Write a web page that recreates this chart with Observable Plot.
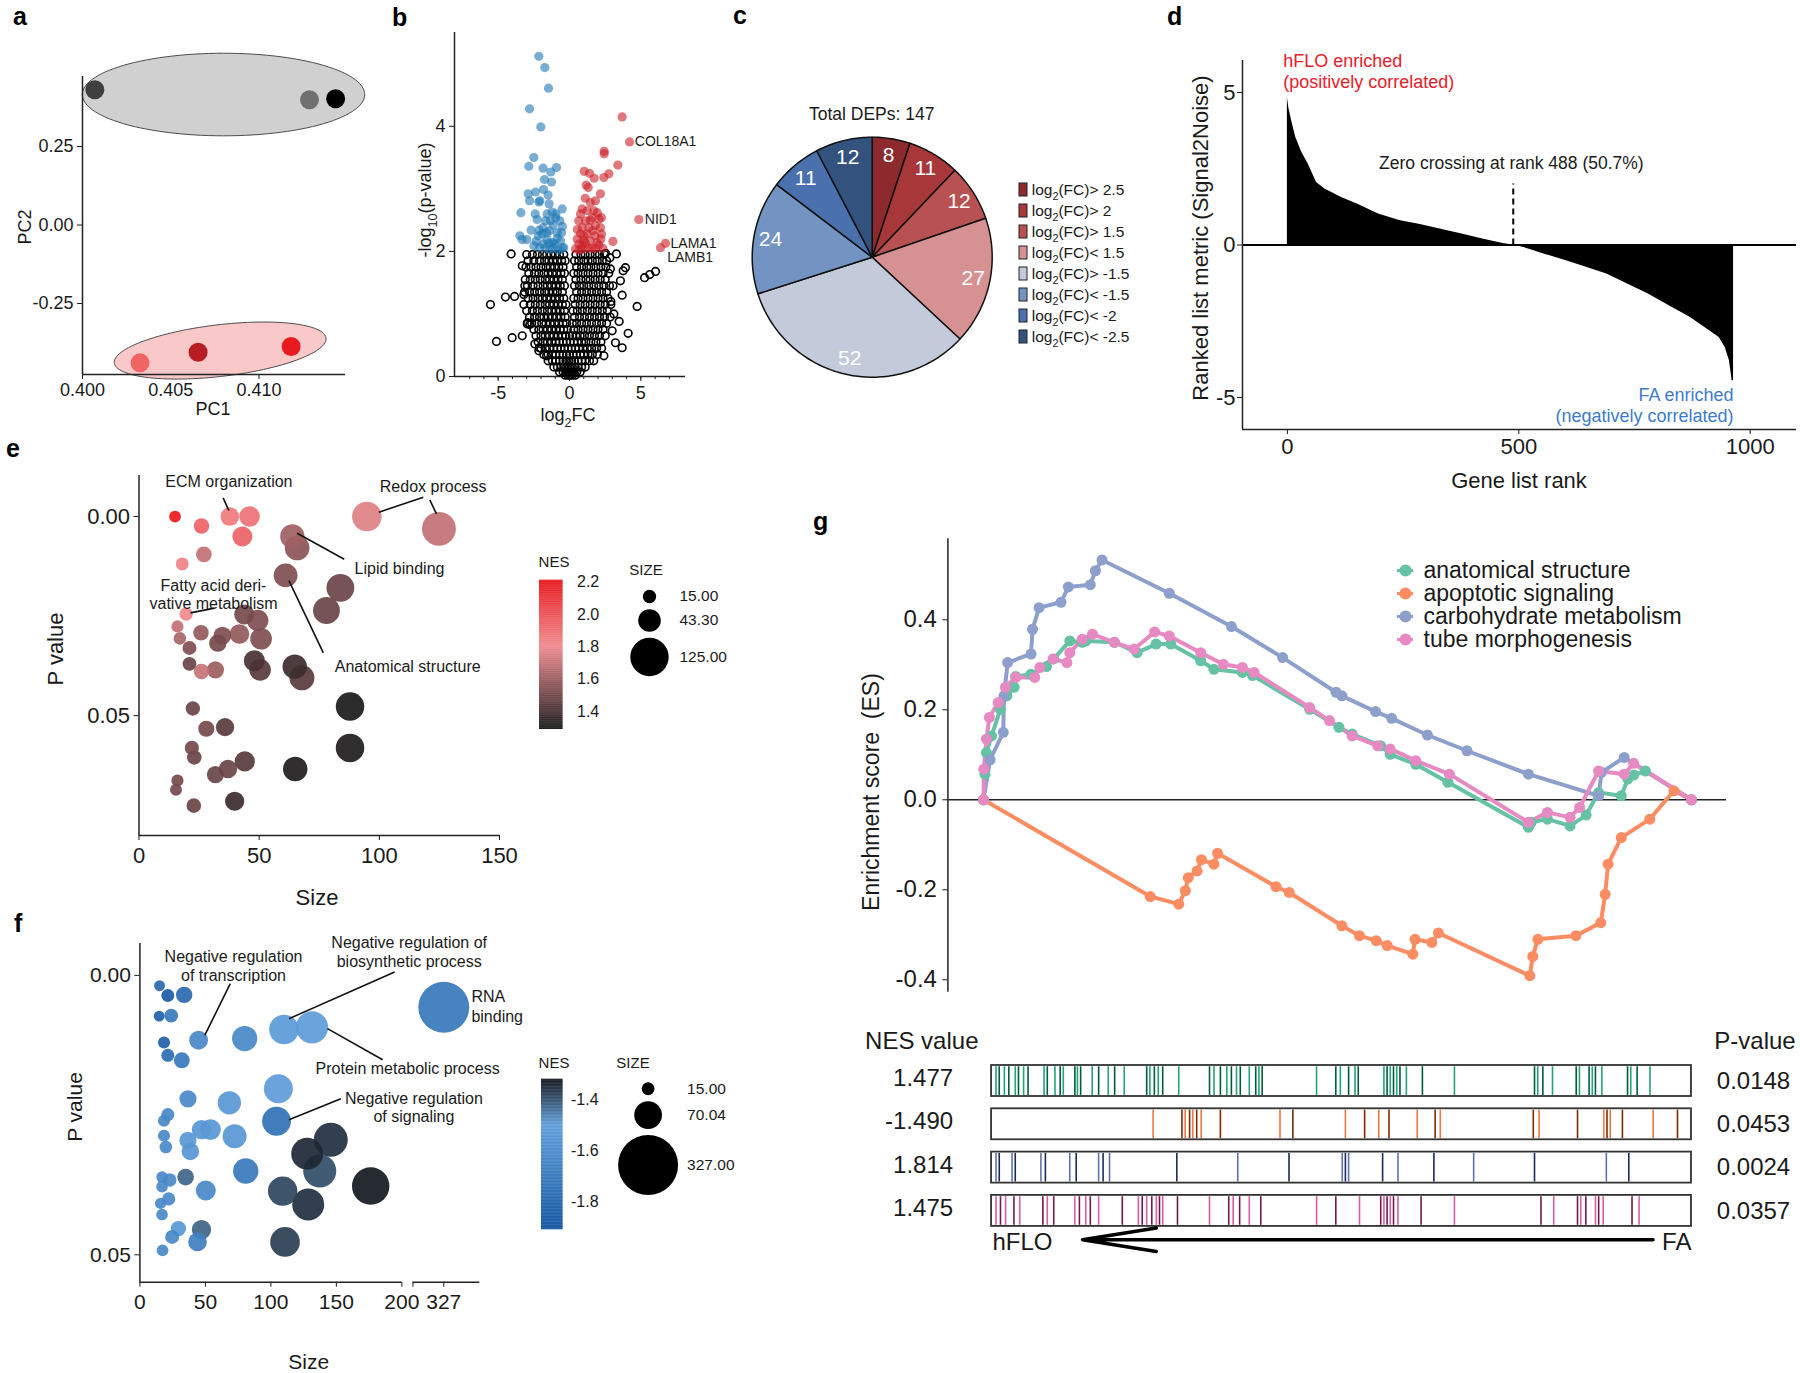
<!DOCTYPE html>
<html><head><meta charset="utf-8">
<script src="https://cdn.jsdelivr.net/npm/d3@7"></script>
<script src="https://cdn.jsdelivr.net/npm/@observablehq/plot@0.6"></script>
<style>
html,body{margin:0;padding:0;background:#fff;overflow:hidden;}
#root{position:relative;width:1800px;height:1373px;background:#fff;}
</style></head><body><div id="root"></div>
<script>
// ---------------- DATA ----------------
// a: PCA
const pcaGroup = ["FA","FA","FA","hFLO","hFLO","hFLO"];
const pcaPC1 = [0.4007, 0.41286, 0.41434, 0.40326, 0.40655, 0.41182];
const pcaPC2 = [0.4306, 0.3987, 0.4019, -0.4389, -0.4051, -0.387];
const pcaColor = ["#3f3f3f","#707070","#000000","#f06464","#b81d24","#e81a1f"];
const ellipseGroup = ["FA","hFLO"];
const ellipseCx = [0.40799, 0.40780];
const ellipseCy = [0.4156, -0.3997];
const ellipseA = [0.0080, 0.0060];
const ellipseB = [0.1315, 0.0828];
const ellipseTilt = [0, 0.0373];
const ellipseFill = ["#d0d0d0","#f9c8c9"];

// b: volcano
const volcanoCoreRows = [
 {y:1.95, x:[-3.0,-2.6,-2.25,-1.9,-1.6,-1.3,-1.0,-0.7,-0.4,0.45,0.8,1.1,1.45,1.8,2.1,2.45]},
 {y:1.85, x:[-2.9,-2.5,-2.1,-1.75,-1.45,-1.15,-0.85,-0.55,-0.3,0.35,0.65,1.0,1.3,1.6,1.95,2.3,2.6]},
 {y:1.75, x:[-3.05,-2.7,-2.35,-2.0,-1.65,-1.35,-1.05,-0.75,-0.45,0.5,0.85,1.2,1.5,1.85,2.2,2.55]},
 {y:1.65, x:[-2.85,-2.45,-2.15,-1.8,-1.5,-1.2,-0.9,-0.6,-0.35,0.3,0.6,0.95,1.3,1.65,2.0,2.35,2.75]},
 {y:1.55, x:[-3.1,-2.75,-2.4,-2.05,-1.7,-1.4,-1.1,-0.8,-0.5,0.45,0.8,1.15,1.45,1.8,2.15,2.5]},
 {y:1.45, x:[-2.95,-2.55,-2.2,-1.85,-1.55,-1.25,-0.95,-0.65,-0.35,0.35,0.7,1.0,1.35,1.7,2.05,2.4,2.8]},
 {y:1.35, x:[-3.15,-2.8,-2.45,-2.1,-1.75,-1.45,-1.15,-0.85,-0.5,0.5,0.85,1.2,1.55,1.9,2.25,2.6]},
 {y:1.25, x:[-2.9,-2.55,-2.2,-1.9,-1.6,-1.3,-1.0,-0.7,-0.4,0.3,0.6,0.95,1.3,1.65,2.0,2.35,2.7]},
 {y:1.15, x:[-3.2,-2.75,-2.4,-2.05,-1.7,-1.4,-1.1,-0.8,-0.5,-0.25,0.4,0.75,1.1,1.45,1.8,2.15,2.5,2.9]},
 {y:1.05, x:[-3.0,-2.6,-2.25,-1.9,-1.55,-1.25,-0.95,-0.65,-0.35,0.25,0.55,0.9,1.25,1.6,1.95,2.3,2.65]},
 {y:0.95, x:[-2.8,-2.45,-2.1,-1.8,-1.5,-1.2,-0.9,-0.6,-0.3,0.35,0.7,1.05,1.4,1.75,2.1,2.45,2.85]},
 {y:0.85, x:[-2.65,-2.3,-1.95,-1.65,-1.35,-1.05,-0.75,-0.45,-0.2,0.2,0.5,0.85,1.2,1.55,1.9,2.25,2.6]},
 {y:0.75, x:[-2.5,-2.15,-1.85,-1.55,-1.25,-0.95,-0.65,-0.4,-0.15,0.3,0.6,0.95,1.3,1.65,2.0,2.35]},
 {y:0.65, x:[-2.35,-2.0,-1.7,-1.4,-1.1,-0.8,-0.5,-0.25,0.0,0.2,0.45,0.75,1.05,1.4,1.75,2.1,2.5]},
 {y:0.55, x:[-2.2,-1.85,-1.55,-1.25,-0.95,-0.7,-0.45,-0.2,0.05,0.3,0.55,0.85,1.15,1.5,1.85,2.2]},
 {y:0.45, x:[-2.0,-1.7,-1.4,-1.1,-0.85,-0.6,-0.35,-0.1,0.15,0.4,0.65,0.95,1.25,1.55,1.9,2.25]},
 {y:0.35, x:[-1.8,-1.5,-1.2,-0.95,-0.7,-0.45,-0.2,0.0,0.25,0.5,0.75,1.0,1.3,1.6,1.95]},
 {y:0.25, x:[-1.5,-1.2,-0.95,-0.7,-0.45,-0.25,-0.05,0.15,0.35,0.6,0.85,1.1,1.4,1.7]},
 {y:0.15, x:[-1.1,-0.85,-0.6,-0.4,-0.2,0.0,0.2,0.4,0.6,0.85,1.1]},
 {y:0.07, x:[-0.7,-0.45,-0.25,-0.08,0.1,0.28,0.5,0.75]},
 {y:0.02, x:[-0.3,-0.1,0.05,0.2,0.4]}
];
const volcanoOutliers = [[-4.09,1.96],[-5.54,1.15],[-4.49,1.27],[-3.85,1.28],[-3.2,1.31],[-5.12,0.56],[-4.02,0.62],[-3.31,0.65],[-2.96,0.84],[-2.78,0.83],[-2.43,0.52],[-2.12,0.46],[-1.61,0.33],[-3.31,1.77],[-3.13,1.45],[-2.94,0.86],[-2.15,0.41],[3.92,1.74],[3.76,1.69],[3.57,1.53],[3.69,1.30],[4.74,1.12],[5.26,1.58],[5.63,1.63],[6.03,1.68],[3.48,0.88],[4.11,0.69],[3.69,0.46],[3.22,0.54],[2.52,1.97],[3.29,1.96],[2.87,1.72],[2.41,0.33],[3.11,1.0],[2.99,0.73],[2.83,1.9],[3.05,1.45],[2.9,1.2]];
const volcanoDown = [[-2.15,5.12],[-1.73,4.94],[-1.47,4.61],[-2.80,4.28],[-2.01,3.99],[-2.50,3.50],[-2.85,3.36],[-1.85,3.33],[-0.91,3.34],[-1.31,3.27],[-1.75,3.15],[-1.26,3.11],[-2.90,2.92],[-2.38,2.95],[-1.82,2.99],[-2.80,2.81],[-2.08,2.81],[-1.50,2.90],[-3.41,2.62],[-2.15,2.79],[-1.43,2.76],[-0.51,2.68],[-2.27,2.51],[-1.21,2.63],[-0.96,2.54],[-1.68,2.49],[-2.69,2.34],[-2.13,2.34],[-0.5,2.40],[-3.48,2.25],[-3.32,2.19],[-2.99,2.19],[-1.92,2.28],[-1.40,2.33],[-0.86,2.30],[-2.34,2.16],[-1.57,2.19],[-1.21,2.14],[-0.63,2.17],[-2.10,2.06],[-1.68,2.06],[-1.10,2.06],[-0.51,2.06],[-2.50,2.09],[-1.45,2.13],[-0.86,2.21],[-1.85,2.38],[-1.33,2.49],[-1.57,2.60],[-0.68,2.49],[-0.40,2.06],[-0.75,2.02],[-1.05,2.12],[-1.35,2.03],[-1.85,2.12],[-2.2,2.25],[-0.55,2.3],[-1.15,2.42],[-1.6,2.3],[-0.95,2.6],[-2.4,2.6]];
const volcanoUp = [[3.69,4.15],[4.21,3.75],[2.43,3.60],[2.43,3.56],[3.39,3.38],[1.03,3.28],[1.40,3.25],[1.73,3.17],[2.76,3.24],[2.41,3.18],[1.17,3.06],[1.31,3.02],[2.17,2.92],[1.47,2.78],[0.77,2.60],[1.24,2.65],[1.71,2.65],[4.86,2.51],[0.65,2.49],[1.12,2.49],[1.59,2.54],[2.06,2.52],[2.24,2.54],[0.89,2.38],[1.36,2.38],[1.82,2.41],[2.17,2.38],[0.77,2.28],[1.24,2.28],[1.78,2.25],[2.24,2.28],[0.54,2.20],[1.00,2.17],[1.47,2.17],[1.94,2.14],[3.04,2.16],[6.73,2.13],[6.38,2.06],[0.42,2.04],[0.89,2.04],[1.31,2.05],[1.82,2.05],[2.34,2.05],[0.65,2.12],[1.12,2.13],[1.64,2.33],[1.82,2.81],[0.89,2.68],[0.7,2.02],[1.0,2.25],[1.55,2.05],[2.05,2.1],[0.55,2.35],[1.45,2.5],[1.95,2.62],[1.1,2.85],[0.9,2.1],[2.2,2.2]];
const volcanoLabelText = ["COL18A1","NID1","LAMA1","LAMB1"];
const volcanoLabelX = [4.58, 5.28, 7.08, 6.85];
const volcanoLabelY = [3.75, 2.51, 2.13, 1.90];

// c: pie
const pieCounts = [8, 11, 12, 27, 52, 24, 11, 12];
const pieColors = ["#8c2a2e","#a8373a","#b85252","#d69193","#c3cad9","#7393c3","#4a70ae","#34527e"];
const pieLegend = ["log_{2}(FC)> 2.5","log_{2}(FC)> 2","log_{2}(FC)> 1.5","log_{2}(FC)< 1.5","log_{2}(FC)> -1.5","log_{2}(FC)< -1.5","log_{2}(FC)< -2","log_{2}(FC)< -2.5"];
const pieTotal = "Total DEPs: 147";

// d: ranked list metric
const dRank  = [0, 3, 9, 18, 31, 45, 63, 81, 117, 152, 197, 242, 287, 332, 377, 422, 466, 487, 511, 556, 601, 646, 690, 735, 780, 825, 870, 906, 933, 946, 955, 961, 964];
const dValue = [4.84, 4.5, 4.08, 3.53, 3.04, 2.66, 2.05, 1.84, 1.56, 1.34, 1.02, 0.80, 0.67, 0.52, 0.36, 0.20, 0.05, 0, -0.08, -0.30, -0.51, -0.73, -0.95, -1.28, -1.61, -1.99, -2.37, -2.75, -3.03, -3.36, -3.79, -4.45, -4.45];
const dZeroRank = 488;

// e: positive enriched terms
const eSize = [15, 26, 37.8, 46, 43, 27, 18, 94.8, 124.8, 63.8, 65.8, 61, 83.8, 78, 19.6, 16, 17, 21, 25.8, 34.7, 32.8, 41.8, 43.8, 49.4, 50.8, 21, 26, 31.8, 48, 50.4, 64.8, 67.8, 87.8, 87.8, 65, 22.4, 28, 35.8, 22, 23, 44, 37, 31.8, 16, 15.4, 22.8, 39.8];
const ePval = [0, 0.0024, 0, 0, 0.005, 0.0095, 0.0119, 0, 0.0031, 0.005, 0.0079, 0.0148, 0.0179, 0.0236, 0.0245, 0.0276, 0.0306, 0.033, 0.0292, 0.0299, 0.0318, 0.0295, 0.0246, 0.0261, 0.0307, 0.037, 0.0389, 0.0385, 0.0362, 0.0385, 0.0377, 0.0405, 0.0477, 0.0581, 0.0634, 0.0482, 0.0533, 0.0529, 0.0581, 0.0605, 0.0615, 0.0634, 0.0648, 0.0663, 0.0686, 0.0726, 0.0715];
const eNES = [2.2, 1.94, 1.86, 1.89, 1.94, 1.69, 1.83, 1.76, 1.69, 1.61, 1.56, 1.53, 1.48, 1.48, 1.8, 1.69, 1.63, 1.53, 1.58, 1.53, 1.51, 1.58, 1.51, 1.53, 1.53, 1.48, 1.7, 1.6, 1.40, 1.44, 1.37, 1.44, 1.29, 1.30, 1.30, 1.48, 1.51, 1.44, 1.51, 1.48, 1.44, 1.48, 1.48, 1.51, 1.51, 1.48, 1.37];
const eLabels = [
 {text:"ECM organization", x:37.4, y:-0.00862},
 {text:"Redox process", x:122.4, y:-0.00736},
 {text:"Lipid binding", x:108.4, y:0.01314},
 {text:"Anatomical structure", x:111.8, y:0.0377},
 {text:"Fatty acid deri-", x:31.0, y:0.0175},
 {text:"vative metabolism", x:31.0, y:0.0219}];
const eLinks = [
 {x1:35.0,y1:-0.0047,x2:37.4,y2:-0.0015},
 {x1:118.3,y1:-0.00485,x2:99.8,y2:-0.00108},
 {x1:121.0,y1:-0.0042,x2:123.75,y2:-0.00068},
 {x1:85.4,y1:0.01073,x2:65.8,y2:0.0042},
 {x1:76.7,y1:0.03425,x2:62.4,y2:0.01608},
 {x1:31.4,y1:0.0230,x2:21.4,y2:0.0242}];
const eSizeBreaks = [15, 43.3, 125];
const eNesTicks = [1.4, 1.6, 1.8, 2.0, 2.2];

// f: negative enriched terms (x axis is broken between 200 and 303.5)
const fSize = [15, 21.3, 33.8, 14.7, 23.9, 44.8, 80, 110, 131.4, 18.4, 21.3, 32, 105.7, 36.7, 68.3, 104.3, 21.3, 18.4, 47, 53.9, 72.3, 18.4, 36.7, 19.8, 38.5, 145.7, 127.7, 137.3, 80.8, 16.9, 22.8, 34.9, 16.9, 50.3, 176.2, 109, 128.5, 22, 15.8, 16.9, 29.4, 47, 24.6, 44, 17.3, 110.8, 327];
const fPval = [0.00185, 0.0036, 0.0035, 0.0073, 0.0072, 0.0116, 0.0113, 0.0097, 0.0093, 0.012, 0.0143, 0.0152, 0.0203, 0.0221, 0.0228, 0.0261, 0.0249, 0.026, 0.0276, 0.0276, 0.0288, 0.0287, 0.0295, 0.0307, 0.0315, 0.0294, 0.0319, 0.035, 0.035, 0.0361, 0.0366, 0.0361, 0.0378, 0.0385, 0.0377, 0.0386, 0.041, 0.04, 0.0408, 0.0428, 0.0453, 0.0455, 0.0468, 0.0477, 0.0492, 0.0477, 0.0057];
const fNES = [-1.80, -1.88, -1.80, -1.85, -1.71, -1.63, -1.63, -1.53, -1.52, -1.85, -1.78, -1.71, -1.52, -1.63, -1.55, -1.76, -1.63, -1.63, -1.55, -1.55, -1.55, -1.63, -1.55, -1.63, -1.55, -1.35, -1.34, -1.39, -1.71, -1.63, -1.63, -1.42, -1.63, -1.63, -1.32, -1.38, -1.35, -1.63, -1.63, -1.63, -1.55, -1.42, -1.63, -1.68, -1.63, -1.37, -1.72];
const fBreakLo = 200, fBreakHi = 303.5, fBreakGap = 8.5;
const fLabelsMid = [
 {text:"Negative regulation", x:71.5, y:-0.00328},
 {text:"of transcription", x:71.5, y:0.000125},
 {text:"Negative regulation of", x:205.6, y:-0.00578},
 {text:"biosynthetic process", x:205.6, y:-0.00238},
 {text:"Protein metabolic process", x:204.4, y:0.0167},
 {text:"Negative regulation", x:209.2, y:0.02207},
 {text:"of signaling", x:209.2, y:0.02537}];
const fLabelsStart = [
 {text:"RNA", x:253.1, y:0.00388},
 {text:"binding", x:253.1, y:0.00734}];
const fLinks = [
 {x1:69.0,y1:0.00149,x2:49.5,y2:0.01074},
 {x1:194.5,y1:-0.00059,x2:113.8,y2:0.00775},
 {x1:185.3,y1:0.0151,x2:143.2,y2:0.00954},
 {x1:153.4,y1:0.02207,x2:113.8,y2:0.02583}];
const fSizeBreaks = [15, 70.04, 327];
const fNesTicks = [-1.4, -1.6, -1.8];
const fXTickValues = [0, 50, 100, 150, 200, 303.5, 327];

// g: GSEA running enrichment score
const esSets = ["anatomical structure","apoptotic signaling","carbohydrate metabolism","tube morphogenesis"];
const esColors = ["#66c2a5","#fc8d62","#8da0cb","#e78ac3"];
const esAnatRank = [0,2,4,11,23,32,42,44,65,86,96,118,135,140,179,210,236,256,297,315,354,368,446,486,504,543,556,591,635,745,749,771,802,824,841,872,881,889,905,968];
const esAnatES = [0,0.057,0.105,0.142,0.201,0.231,0.25,0.274,0.279,0.296,0.313,0.353,0.35,0.353,0.35,0.327,0.346,0.346,0.309,0.29,0.283,0.276,0.201,0.161,0.146,0.12,0.101,0.079,0.039,-0.061,-0.05,-0.043,-0.058,-0.034,0.016,0.009,0.046,0.055,0.064,0];
const esApopRank = [0,228,267,276,280,292,298,315,320,400,418,490,514,537,552,587,590,613,622,747,751,758,810,844,850,854,872,911,944,968];
const esApopES = [0,-0.215,-0.232,-0.202,-0.173,-0.158,-0.133,-0.143,-0.119,-0.193,-0.206,-0.28,-0.302,-0.313,-0.324,-0.343,-0.31,-0.317,-0.296,-0.391,-0.348,-0.31,-0.302,-0.273,-0.21,-0.143,-0.084,-0.043,0.02,0];
const esCarbRank = [0,9,27,28,33,65,67,76,106,116,146,153,162,254,339,409,482,490,536,558,607,661,745,841,845,876,968];
const esCarbES = [0,0.089,0.15,0.231,0.305,0.324,0.379,0.427,0.439,0.473,0.478,0.509,0.533,0.459,0.385,0.316,0.239,0.231,0.196,0.181,0.144,0.109,0.057,0.009,0.061,0.094,0];
const esTubeRank = [0,0.4,4,8,20,30,44,70,77,95,114,118,135,149,179,206,234,254,297,328,354,370,446,473,504,539,556,591,637,745,771,802,815,841,876,889,968];
const esTubeES = [0,0.068,0.135,0.183,0.216,0.25,0.272,0.272,0.294,0.313,0.305,0.327,0.357,0.368,0.35,0.335,0.373,0.364,0.327,0.301,0.294,0.283,0.205,0.176,0.142,0.12,0.113,0.087,0.057,-0.05,-0.028,-0.039,-0.017,0.064,0.057,0.081,0];
const gsNES = ["1.477","-1.490","1.814","1.475"];
const gsPval = ["0.0148","0.0453","0.0024","0.0357"];
const hitsAnat = [17.1,21.5,28.5,34.6,43.4,47.8,54.8,60.9,82.8,87.2,97.7,104.8,109.1,124.9,128.4,132.8,148.6,157.4,170.5,179.3,192.4,223.1,227.5,233.6,238.9,245.0,266.9,309.0,315.2,323.9,332.7,338.9,345.9,351.1,363.4,372.2,376.6,381.0,455.4,481.7,487.9,499.2,508.0,512.4,547.5,551.8,556.2,560.6,565.0,569.4,578.2,600.1,643.9,753.4,757.8,764.8,778.0,810.4,814.8,828.0,832.4,836.7,845.5,880.6,885.0,893.7,911.3];
const hitsApop = [231.9,271.3,275.7,281.8,286.2,291.5,297.6,323.9,405.4,423.0,494.8,521.1,540.4,554.4,593.0,617.5,624.6,751.7,759.6,812.2,848.1,852.5,856.9,873.6,915.6,948.9];
const hitsCarb = [17.1,21.5,39.0,43.4,78.5,84.6,117.9,126.7,157.4,163.5,172.3,264.3,347.6,417.7,490.5,494.8,499.2,545.7,566.7,615.8,670.2,753.4,851.6,882.3];
const hitsTube = [17.1,23.2,30.2,41.6,49.5,81.1,87.2,96.0,124.9,131.1,139.8,146.0,157.4,189.8,211.7,217.0,223.1,230.1,236.3,240.6,245.0,265.2,309.0,335.3,341.4,350.2,363.4,379.1,455.4,481.7,514.1,543.1,547.5,551.8,556.2,560.6,566.7,598.3,643.9,762.2,779.7,812.2,816.6,823.6,836.7,841.1,847.3,886.7,896.4];
const hitShades = [["#22a37a","#005c38"],["#ea7a45","#7f2a05"],["#5f72ad","#1c2a5a"],["#d95ca3","#6f1a4a"]];

// ---------------- HELPERS ----------------
const FONT = '"Liberation Sans", Arial, Helvetica, sans-serif';
const W = 1800, H = 1373;
const root = document.getElementById("root");
const frame = (l, t, r, b) => ({width: W, height: H, marginLeft: l, marginTop: t, marginRight: W - r, marginBottom: H - b});
const S = fs => ({fontFamily: FONT, fontSize: fs + "px", background: "transparent", color: "#1a1a1a", overflow: "visible"});
const hy = n => (n < 0 ? "-" : "") + Math.abs(n);
function add(p) { p.style.position = "absolute"; p.style.left = "0px"; p.style.top = "0px"; root.appendChild(p); return p; }
function addText(svg, x, y, str, o = {}) {
  const size = o.size || 18;
  const t = d3.select(svg).append("text")
    .attr("x", x).attr("y", y + 0.35 * size)
    .attr("font-size", size).attr("font-family", FONT)
    .attr("font-weight", o.weight || "normal")
    .attr("fill", o.fill || "#1a1a1a")
    .attr("text-anchor", o.anchor || "middle")
    .style("white-space", "pre");
  if (o.rotate) t.attr("transform", `rotate(${o.rotate},${x},${y})`);
  let shift = 0;
  for (const p of str.split(/(_\{[^}]*\})/)) {
    if (!p) continue;
    const m = p.match(/^_\{([^}]*)\}$/);
    const target = m ? 0.3 * size : 0;
    const ts = t.append("tspan").text(m ? m[1] : p);
    if (m) ts.attr("font-size", size * 0.7);
    if (target - shift) ts.attr("dy", target - shift);
    shift = target;
  }
  return t;
}
const AX = {stroke: "#222", strokeWidth: 1.5};

// ---------------- PANEL a ----------------
const pcaPoints = pcaPC1.map((x, i) => ({x, y: pcaPC2[i], color: pcaColor[i], group: pcaGroup[i]}));
const ellipsePoints = ellipseGroup.flatMap((g, i) => d3.range(0, 360, 3).map(deg => {
  const t = deg * Math.PI / 180;
  return {g, fill: ellipseFill[i], x: ellipseCx[i] + ellipseA[i] * Math.cos(t), y: ellipseCy[i] + ellipseB[i] * Math.sin(t) + ellipseTilt[i] * Math.cos(t)};
}));
const pa = add(Plot.plot({
  ...frame(82, 76, 345, 374), style: S(18),
  x: {domain: [0.400, 0.4149], ticks: [0.400, 0.405, 0.410], tickFormat: d => d.toFixed(3), tickSize: 5, label: null},
  y: {domain: [-0.476, 0.473], ticks: [-0.25, 0, 0.25], tickFormat: d => (d < 0 ? "-" : "") + Math.abs(d).toFixed(2), tickSize: 5, label: null},
  color: {type: "identity"},
  marks: [
    Plot.line(ellipsePoints, {x: "x", y: "y", z: "g", fill: "fill", stroke: "#4d4d4d", strokeWidth: 1, curve: "linear-closed"}),
    Plot.ruleX([0.400], AX), Plot.ruleY([-0.476], AX),
    Plot.dot(pcaPoints, {x: "x", y: "y", r: 9.5, fill: "color"})
  ]
}));
addText(pa, 213, 409, "PC1", {size: 18});
addText(pa, 25, 227, "PC2", {size: 18, rotate: -90});

// ---------------- PANEL b ----------------
const volcanoNS = [...volcanoCoreRows.flatMap(r => r.x.map(x => [x, r.y])), ...volcanoOutliers];
const volcanoLabels = volcanoLabelText.map((t, i) => ({t, x: volcanoLabelX[i], y: volcanoLabelY[i]}));
const pb = add(Plot.plot({
  ...frame(454, 32, 685, 376), style: S(18),
  x: {domain: [-8.06, 8.13], ticks: [-5, 0, 5], tickFormat: hy, tickSize: 5, tickPadding: 5, label: null},
  y: {domain: [0, 5.5], ticks: [0, 2, 4], tickFormat: hy, tickSize: 5, label: null},
  marks: [
    Plot.ruleX(d3.range(-7, 8), {y1: 0, y2: -0.05, stroke: "#222", strokeWidth: 1}),
    Plot.ruleX([-8.06], AX), Plot.ruleY([0], AX),
    Plot.dot(volcanoNS, {x: d => d[0], y: d => d[1], r: 3.8, stroke: "#000", strokeWidth: 1.6, fill: "none"}),
    Plot.dot(volcanoDown, {x: d => d[0], y: d => d[1], r: 4.6, fill: "#1f78b4", fillOpacity: 0.6}),
    Plot.dot(volcanoUp, {x: d => d[0], y: d => d[1], r: 4.6, fill: "#cb2027", fillOpacity: 0.6}),
    Plot.text(volcanoLabels, {x: "x", y: "y", text: "t", textAnchor: "start", fontSize: 14, fill: "#1a1a1a"})
  ]
}));
addText(pb, 568, 415, "log_{2}FC", {size: 18});
addText(pb, 425, 200, "-log_{10}(p-value)", {size: 18, rotate: -90});

// ---------------- PANEL c ----------------
const pieArcs = d3.pie().sort(null)(pieCounts);
const pieSlicePts = pieArcs.flatMap((a, i) => {
  const n = Math.ceil((a.endAngle - a.startAngle) / 0.02) + 1;
  return [{id: i, x: 0, y: 0}, ...d3.range(n + 1).map(k => {
    const t = a.startAngle + (a.endAngle - a.startAngle) * k / n;
    return {id: i, x: Math.sin(t), y: Math.cos(t)};
  })];
});
const mid = a => (a.startAngle + a.endAngle) / 2;
const pc = add(Plot.plot({
  ...frame(751.7, 136.7, 991.7, 376.7), style: S(21),
  x: {domain: [-1, 1], axis: null}, y: {domain: [-1, 1], axis: null},
  color: {type: "identity"},
  marks: [
    Plot.line(pieSlicePts, {x: "x", y: "y", z: "id", fill: d => pieColors[d.id], stroke: "#111", strokeWidth: 1.5, curve: "linear-closed"}),
    Plot.text(pieArcs, {x: a => 0.86 * Math.sin(mid(a)), y: a => 0.86 * Math.cos(mid(a)), text: a => String(a.data), fill: "white", fontSize: 21})
  ]
}));
addText(pc, 871.7, 114, pieTotal, {size: 17.5});
const pieLegendRows = pieLegend.map((label, i) => ({label, color: pieColors[i]}));
const pcl = add(Plot.plot({
  ...frame(1019, 178.8, 1027.3, 347.6), style: S(16),
  x: {type: "band", domain: ["key"], range: [1019, 1027.3], padding: 0, axis: null},
  y: {type: "band", domain: pieLegend, range: [178.8, 347.6], paddingInner: 0.37, paddingOuter: 0.185, axis: null},
  color: {type: "identity"},
  marks: [Plot.cell(pieLegendRows, {x: () => "key", y: "label", fill: "color", stroke: "#222", strokeWidth: 1})]
}));
{
  const ys = pcl.scale("y");
  pieLegend.forEach(l => addText(pcl, 1031.7, ys.apply(l) + ys.bandwidth / 2, l, {size: 15.5, anchor: "start"}));
}

// ---------------- PANEL d ----------------
const dData = dRank.map((r, i) => ({rank: r, v: dValue[i]}));
const dNotesStart = [
  {t: "hFLO enriched", x: -9, y: 6.04},
  {t: "(positively correlated)", x: -9, y: 5.33}];
const dNotesMid = [{t: "Zero crossing at rank 488 (50.7%)", x: 484, y: 2.67}];
const dNotesEnd = [
  {t: "FA enriched", x: 964, y: -4.94},
  {t: "(negatively correlated)", x: 964, y: -5.6}];
const pd = add(Plot.plot({
  ...frame(1242, 60, 1796, 429), style: S(22),
  x: {domain: [-97, 1100], ticks: [0, 500, 1000], tickFormat: d => String(d), tickSize: 5, tickPadding: 4, label: null},
  y: {domain: [-6.05, 6.05], ticks: [-5, 0, 5], tickFormat: hy, tickSize: 5, tickPadding: 2, label: null},
  marks: [
    Plot.areaY(dData, {x: "rank", y: "v", fill: "black"}),
    Plot.ruleY([0], {stroke: "#000", strokeWidth: 2}),
    Plot.ruleX([dZeroRank], {y1: 0, y2: 2.0, stroke: "#000", strokeWidth: 2, strokeDasharray: "6 4"}),
    Plot.ruleX([-97], AX), Plot.ruleY([-6.05], AX),
    Plot.text(dNotesStart, {x: "x", y: "y", text: "t", textAnchor: "start", fill: "#e8202a", fontSize: 18}),
    Plot.text(dNotesMid, {x: "x", y: "y", text: "t", textAnchor: "middle", fill: "#1a1a1a", fontSize: 17.5}),
    Plot.text(dNotesEnd, {x: "x", y: "y", text: "t", textAnchor: "end", fill: "#3d7cc9", fontSize: 18})
  ]
}));
addText(pd, 1519, 480, "Gene list rank", {size: 22});
addText(pd, 1200, 238, "Ranked list metric (Signal2Noise)", {size: 22, rotate: -90});

// ---------------- PANEL e ----------------
const eColor = {type: "linear", domain: [1.29, 1.8, 2.21], range: ["#1a1a1a", "#f08a8e", "#e8161b"], interpolate: "rgb"};
const eData = eSize.map((s, i) => ({s, p: ePval[i], nes: eNES[i]}));
const pe = add(Plot.plot({
  ...frame(138.5, 475, 499, 835), style: S(22),
  x: {domain: [0, 150], ticks: [0, 50, 100, 150], tickSize: 5, tickPadding: 7, label: null},
  y: {domain: [-0.0103, 0.0801], reverse: true, ticks: [0, 0.05], tickFormat: d => d.toFixed(2), tickSize: 5, label: null},
  r: {domain: [0, 125], range: [0, 17]},
  color: eColor,
  marks: [
    Plot.ruleX([0], AX), Plot.ruleY([0.0801], AX),
    Plot.dot(eData, {x: "s", y: "p", r: "s", fill: "nes", fillOpacity: 0.92}),
    Plot.link(eLinks, {x1: "x1", y1: "y1", x2: "x2", y2: "y2", stroke: "#111", strokeWidth: 1.6}),
    Plot.text(eLabels, {x: "x", y: "y", text: "text", fontSize: 16, fill: "#1a1a1a"})
  ]
}));
addText(pe, 317, 897, "Size", {size: 22});
addText(pe, 55, 649, "P value", {size: 22, rotate: -90});
const eRamp = d3.range(1.29, 2.21, 0.004);
const pecb = add(Plot.plot({
  ...frame(539, 580, 562.5, 729), style: S(16),
  x: {domain: [0, 1], axis: null},
  y: {domain: [1.29, 2.21], ticks: eNesTicks, tickFormat: d => d.toFixed(1), axis: "right", tickSize: 0, tickPadding: 14, label: null},
  color: eColor,
  marks: [Plot.rect(eRamp, {x1: 0, x2: 1, y1: d => d, y2: d => d + 0.006, fill: d => d})]
}));
addText(pecb, 554, 562, "NES", {size: 15});
addText(pecb, 646, 570, "SIZE", {size: 15});
function sizeLegend(breaks, rmax, dmax, cx, y0, dx) {
  const rs = d3.scaleSqrt().domain([0, dmax]).range([0, rmax]);
  const ys = []; breaks.forEach((b, i) => ys.push(i === 0 ? y0 : ys[i - 1] + rs(breaks[i - 1]) + rs(b) + 6));
  const rows = breaks.map((b, i) => ({b, y: ys[i]}));
  return add(Plot.plot({
    ...frame(0, 0, W, H), style: S(15.5),
    x: {domain: [0, W], range: [0, W], axis: null},
    y: {domain: [0, H], range: [0, H], axis: null},
    r: {domain: [0, dmax], range: [0, rmax]},
    marks: [
      Plot.dot(rows, {x: () => cx, y: "y", r: "b", fill: "black"}),
      Plot.text(rows, {x: () => cx, y: "y", dx: dx, text: d => d.b.toFixed(2), textAnchor: "start", fontSize: 15.5, fill: "#1a1a1a"})
    ]
  }));
}
sizeLegend(eSizeBreaks, 19.2, 125, 649, 596, 30);

// ---------------- PANEL f ----------------
// broken axis position: values above the break are shifted left so 303.5 sits just after 200
const fPos = s => (s <= fBreakLo ? s : s - fBreakHi + fBreakLo + fBreakGap);
const fColor = {type: "linear", domain: [-1.91, -1.5, -1.32], range: ["#1456a0", "#62a0dc", "#14181f"], interpolate: "rgb"};
const fData = fSize.map((s, i) => ({s, p: fPval[i], nes: fNES[i]}));
const fTickPos = fXTickValues.map(fPos);
const pf = add(Plot.plot({
  ...frame(139.4, 943, 479.3, 1281.7), style: S(21),
  x: {domain: [0, fPos(354.5)], ticks: fTickPos, tickFormat: (d, i) => (fXTickValues[i] === fBreakHi ? "" : String(fXTickValues[i])), tickSize: 5, tickPadding: 7, label: null},
  y: {domain: [-0.0057, 0.0549], reverse: true, ticks: [0, 0.05], tickFormat: d => d.toFixed(2), tickSize: 5, label: null},
  r: {domain: [0, 327], range: [0, 25.5]},
  color: fColor,
  marks: [
    Plot.ruleX([0], AX),
    Plot.ruleY([0.0549], {x1: 0, x2: fBreakLo, ...AX}),
    Plot.ruleY([0.0549], {x1: fPos(fBreakHi), x2: fPos(354.5), ...AX}),
    Plot.dot(fData, {x: d => fPos(d.s), y: "p", r: "s", fill: "nes", fillOpacity: 0.92}),
    Plot.link(fLinks, {x1: "x1", y1: "y1", x2: "x2", y2: "y2", stroke: "#111", strokeWidth: 1.6}),
    Plot.text(fLabelsMid, {x: "x", y: "y", text: "text", textAnchor: "middle", fontSize: 16, fill: "#1a1a1a"}),
    Plot.text(fLabelsStart, {x: "x", y: "y", text: "text", textAnchor: "start", fontSize: 16, fill: "#1a1a1a"})
  ]
}));
addText(pf, 308.7, 1362, "Size", {size: 21});
addText(pf, 74.5, 1107, "P value", {size: 21, rotate: -90});
const fRamp = d3.range(-1.91, -1.32, 0.003);
const pfcb = add(Plot.plot({
  ...frame(541, 1079.3, 562.5, 1229.3), style: S(16),
  x: {domain: [0, 1], axis: null},
  y: {domain: [-1.91, -1.32], ticks: fNesTicks, tickFormat: d => "-" + Math.abs(d).toFixed(1), axis: "right", tickSize: 0, tickPadding: 8, label: null},
  color: fColor,
  marks: [Plot.rect(fRamp, {x1: 0, x2: 1, y1: d => d, y2: d => d + 0.0045, fill: d => d})]
}));
addText(pfcb, 554, 1063, "NES", {size: 15});
addText(pfcb, 633, 1063, "SIZE", {size: 15});
sizeLegend(fSizeBreaks, 30, 327, 647.6, 1088.3, 39);

// ---------------- PANEL g ----------------
const esData = [
  ...esAnatRank.map((r, i) => ({set: esSets[0], rank: r, es: esAnatES[i]})),
  ...esApopRank.map((r, i) => ({set: esSets[1], rank: r, es: esApopES[i]})),
  ...esCarbRank.map((r, i) => ({set: esSets[2], rank: r, es: esCarbES[i]})),
  ...esTubeRank.map((r, i) => ({set: esSets[3], rank: r, es: esTubeES[i]}))];
const gX = {domain: [-48.7, 1015.9], axis: null};
const gColor = {domain: esSets, range: esColors};
const pg = add(Plot.plot({
  ...frame(947.4, 538.3, 1726, 991.7), style: S(24),
  x: gX,
  y: {domain: [-0.4276, 0.58], ticks: [-0.4, -0.2, 0, 0.2, 0.4], tickFormat: d => (d < -1e-9 ? "-" : "") + Math.abs(d).toFixed(1), tickSize: 5, tickPadding: 6, label: null},
  color: gColor,
  marks: [
    Plot.ruleX([-48.7], AX),
    Plot.ruleY([0], {stroke: "#222", strokeWidth: 1.6}),
    Plot.line(esData, {x: "rank", y: "es", z: "set", stroke: "set", strokeWidth: 4}),
    Plot.dot(esData, {x: "rank", y: "es", fill: "set", r: 5.5})
  ]
}));
addText(pg, 870.5, 792, "Enrichment score  (ES)", {size: 23, rotate: -90});
add(Plot.plot({
  ...frame(1397, 560, 1413, 650), style: S(23),
  x: {domain: [0, 1], axis: null},
  y: {type: "point", domain: esSets, range: [570, 639], padding: 0, axis: null},
  color: gColor,
  marks: [
    Plot.ruleY(esSets, {y: d => d, x1: 0, x2: 1, stroke: d => d, strokeWidth: 3}),
    Plot.dot(esSets, {x: 0.5, y: d => d, fill: d => d, r: 6}),
    Plot.text(esSets, {x: 1, y: d => d, dx: 10, text: d => d, textAnchor: "start", fontSize: 23, fill: "#1a1a1a"})
  ]
}));
const gsRows = gsNES.map((n, i) => ({row: i, nes: n, p: gsPval[i]}));
const gsHits = [hitsAnat, hitsApop, hitsCarb, hitsTube].flatMap((arr, s) => arr.map((rank, k) => ({row: s, rank, color: hitShades[s][k % 2]})));
const pgb = add(Plot.plot({
  ...frame(947.4, 1065, 1726, 1238.2), style: S(24),
  x: gX,
  y: {domain: [0, 4], reverse: true, axis: null},
  color: {type: "identity"},
  marks: [
    Plot.ruleX(gsHits, {x: "rank", y1: d => d.row + 0.03, y2: d => d.row + 0.69, stroke: "color", strokeWidth: 1.6}),
    Plot.rect(gsRows, {x1: 11, x2: 968, y1: "row", y2: d => d.row + 0.716, fill: "none", stroke: "#333", strokeWidth: 1.8}),
    Plot.text(gsRows, {x: -41.6, y: d => d.row + 0.3, text: "nes", textAnchor: "end", fontSize: 24, fill: "#1a1a1a"}),
    Plot.text(gsRows, {x: 1052.8, y: d => d.row + 0.36, text: "p", textAnchor: "middle", fontSize: 24, fill: "#1a1a1a"}),
    Plot.arrow([{x1: 915.5, x2: 135.4, y: 4.025}], {x1: "x1", x2: "x2", y1: "y", y2: "y", stroke: "#000", strokeWidth: 3.5, headAngle: 18, headLength: 32}),
    Plot.text(["hFLO"], {x: 12.3, y: 4.08, text: d => d, textAnchor: "start", fontSize: 24, fill: "#1a1a1a"}),
    Plot.text(["FA"], {x: 968, y: 4.08, text: d => d, textAnchor: "end", fontSize: 24, fill: "#1a1a1a"})
  ]
}));
addText(pgb, 921.8, 1040.7, "NES value", {size: 24});
addText(pgb, 1755, 1040.7, "P-value", {size: 24});

// ---------------- panel letters ----------------
[["a", 13, 16.3], ["b", 392, 17.3], ["c", 733, 15.6], ["d", 1167, 16.3], ["e", 6, 448.3], ["f", 14, 923.3], ["g", 813, 521.3]]
  .forEach(([l, x, y]) => addText(pgb, x, y, l, {size: 25, weight: "bold", anchor: "start", fill: "#000"}));
</script></body></html>
